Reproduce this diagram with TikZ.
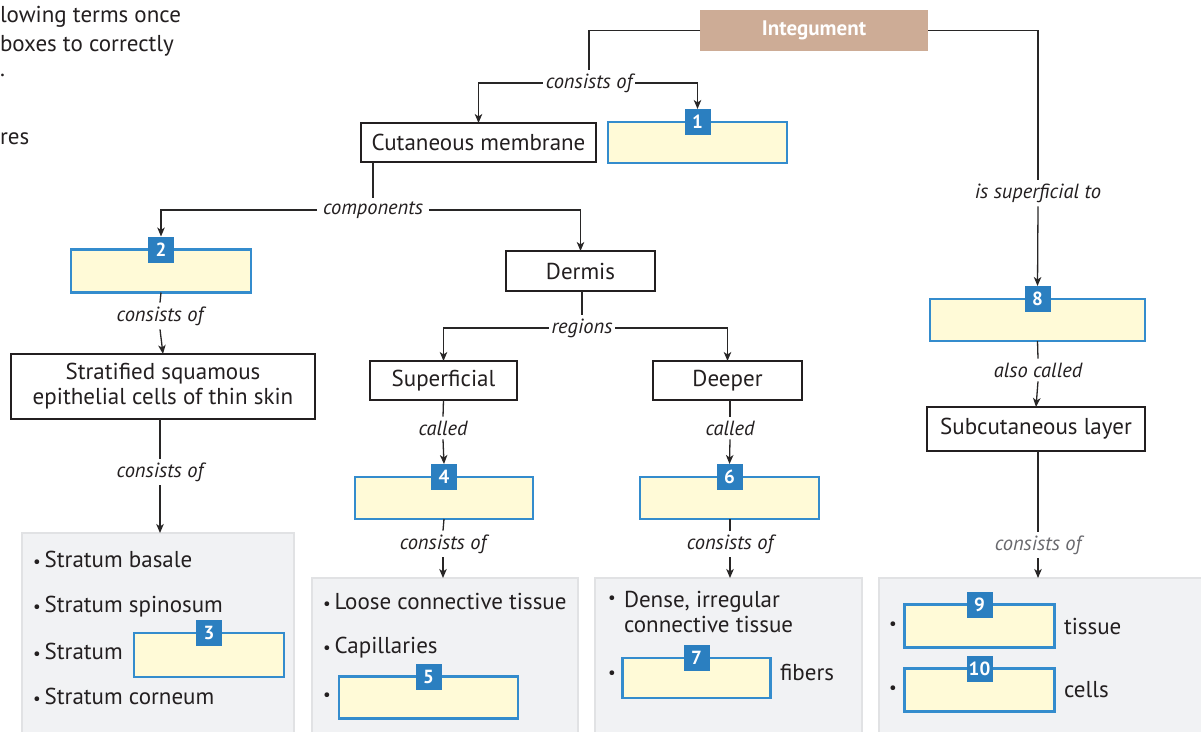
\documentclass[tikz,border=0pt]{standalone}
\usepackage{fontspec}
\setmainfont{PT Sans}
\usetikzlibrary{arrows.meta}
\definecolor{tanC}{RGB}{205,172,150}
\definecolor{badgeC}{RGB}{43,127,192}
\definecolor{ansB}{RGB}{52,140,205}
\definecolor{ansF}{RGB}{255,250,215}
\definecolor{grayF}{RGB}{241,242,244}
\definecolor{grayB}{RGB}{225,226,228}
\definecolor{lineC}{RGB}{40,38,38}
\definecolor{textC}{RGB}{35,31,32}
\definecolor{labG}{RGB}{105,105,110}
\newcommand{\bul}{{\fontsize{17}{17}\selectfont•}\hspace{4pt}}
\begin{document}
\begin{tikzpicture}[x=1pt,y=-1pt,
 every node/.style={inner sep=0pt, outer sep=0pt},
 con/.style={draw=lineC, line width=1.3pt},
 arr/.style={con, -{Stealth[length=9pt,width=7.5pt,inset=2.5pt]}},
 blk/.style={draw=textC, line width=2.4pt, fill=white, font=\fontsize{23}{26}\selectfont, text=textC},
 ans/.style={draw=ansB, line width=2.6pt, fill=ansF},
 badge/.style={fill=badgeC, text=white, font=\bfseries\fontsize{19}{19}\selectfont, minimum width=26pt, minimum height=26pt},
 grayb/.style={draw=grayB, line width=2pt, fill=grayF, anchor=north west},
 lab/.style={font=\itshape\fontsize{20.5}{22}\selectfont, text=textC, inner xsep=3pt, inner ysep=4pt},
 txt/.style={font=\fontsize{23}{25}\selectfont, text=textC, anchor=west},
]
\useasboundingbox (0,0) rectangle (1201,731);
% clipped instruction text
\node[txt] (t1) at (0,17) {lowing terms once};
\node[txt] (t2) at (0,46) {boxes to correctly};
\node[txt] (t3) at (0,75) {.};
\node[txt] (t4) at (0,139) {res};
% top
\node[fill=tanC, minimum width=228pt, minimum height=41pt, text=white, font=\bfseries\fontsize{21}{21}\selectfont] (integ) at (814,30.5) {Integument};
\node[lab] (c1) at (589,83) {consists of};
\node[blk, minimum width=235pt, minimum height=39pt] (cut) at (478.5,142.5) {Cutaneous membrane};
\node[ans, minimum width=179pt, minimum height=41pt] (a1) at (697.5,142.5) {};
\node[badge] (b1) at (a1.north) {1};
\node[lab] (sup) at (1038,193) {is superficial to};
\node[lab, inner xsep=6pt] (comp) at (373,210) {components};
% left column
\node[ans, minimum width=180pt, minimum height=43pt] (a2) at (161,271) {};
\node[badge] (b2) at (a2.north) {2};
\node[lab] (c2) at (160,316) {consists of};
\node[blk, minimum width=304pt, minimum height=65pt, align=center, font=\fontsize{23}{25}\selectfont] (strat) at (163,386.5) {Stratified squamous\\epithelial cells of thin skin};
\node[lab] (c3) at (160,472) {consists of};
\node[grayb, minimum width=272pt, minimum height=205pt] (g1) at (22,533) {};
\node[txt] (s1) at (33,559) {\bul Stratum basale};
\node[txt] (s2) at (33,607) {\bul Stratum spinosum};
\node[txt] (s3) at (33,651) {\bul Stratum};
\node[txt] (s4) at (33,696) {\bul Stratum corneum};
\node[ans, minimum width=150pt, minimum height=44pt] (a3) at (209,655) {};
\node[badge] (b3) at (a3.north) {3};
% dermis
\node[blk, minimum width=149pt, minimum height=40pt] (dermis) at (580.5,271) {Dermis};
\node[lab] (reg) at (582,328) {regions};
\node[blk, minimum width=147pt, minimum height=39pt] (supf) at (443.5,380.5) {Superficial};
\node[blk, minimum width=149pt, minimum height=39pt] (deep) at (727.5,380.5) {Deeper};
\node[lab] (cl1) at (443,428) {called};
\node[lab] (cl2) at (730,428) {called};
\node[ans, minimum width=178pt, minimum height=42pt] (a4) at (444,498) {};
\node[badge] (b4) at (a4.north) {4};
\node[ans, minimum width=179pt, minimum height=42pt] (a6) at (729.5,498) {};
\node[badge] (b6) at (a6.north) {6};
\node[lab] (c4) at (443,544) {consists of};
\node[lab] (c5) at (730,544) {consists of};
\node[grayb, minimum width=266pt, minimum height=165pt] (g2) at (312,578) {};
\node[grayb, minimum width=267pt, minimum height=165pt] (g3) at (595,578) {};
\node[txt] (l1) at (323,601) {\bul Loose connective tissue};
\node[txt] (l2) at (323,648) {\bul Capillaries};
\node[txt] (l3) at (323,697) {\bul};
\node[ans, minimum width=179pt, minimum height=42pt] (a5) at (428.5,697.5) {};
\node[badge] (b5) at (a5.north) {5};
\node[txt] (d1) at (608,600) {\bul};
\node[txt, align=left] (d2) at (624,612) {Dense, irregular\\connective tissue};
\node[txt] (d3) at (608,675) {\bul};
\node[ans, minimum width=148pt, minimum height=40pt] (a7) at (696.5,678) {};
\node[badge] (b7) at (a7.north) {7};
\node[txt] (d4) at (780,672) {fibers};
% right column
\node[ans, minimum width=215pt, minimum height=42pt] (a8) at (1037.5,320) {};
\node[badge] (b8) at (a8.north) {8};
\node[lab] (also) at (1038,370) {also called};
\node[blk, minimum width=218pt, minimum height=44pt] (subc) at (1036,429) {Subcutaneous layer};
\node[lab, text=labG] (c6) at (1038,545) {consists of};
\node[grayb, minimum width=340pt, minimum height=165pt] (g4) at (879,578) {};
\node[txt] (r1) at (889,626) {\bul};
\node[ans, minimum width=150pt, minimum height=43pt] (a9) at (979.5,626) {};
\node[badge] (b9) at (a9.north) {9};
\node[txt] (r2) at (1064,626) {tissue};
\node[txt] (r3) at (889,690) {\bul};
\node[ans, minimum width=150pt, minimum height=43pt] (a10) at (979.5,690) {};
\node[badge] (b10) at (a10.north) {10};
\node[txt] (r4) at (1064,690) {cells};
% connectors
\draw[con] (integ.west) -| (c1.north);
\draw[arr] (c1.west) -| (cut.north);
\draw[arr] (c1.east) -| (b1.north);
\draw[con] (integ.east) -| (sup.north);
\draw[arr] (sup.south) -- (b8.north);
\draw[con] (comp.north |- cut.south) -- (comp.north);
\draw[arr] (comp.west) -| (b2.north);
\draw[arr] (comp.east) -| (dermis.north);
\draw[con] (a2.south) -- (c2.north);
\draw[arr] (c2.south) -- (strat.north);
\draw[con] (c3.north |- strat.south) -- (c3.north);
\draw[arr] (c3.south) -- (c3.south |- g1.north);
\draw[con] (reg.north |- dermis.south) -- (reg.north);
\draw[arr] (reg.west) -| (supf.north);
\draw[arr] (reg.east) -| (deep.north);
\draw[con] (supf.south) -- (cl1.north);
\draw[arr] (cl1.south) -- (b4.north);
\draw[con] (cl2.north |- deep.south) -- (cl2.north);
\draw[arr] (cl2.south) -- (b6.north);
\draw[con] (a4.south) -- (c4.north);
\draw[arr] (c4.south) -- (c4.south |- g2.north);
\draw[con] (c5.north |- a6.south) -- (c5.north);
\draw[arr] (c5.south) -- (c5.south |- g3.north);
\draw[con] (a8.south) -- (also.north);
\draw[arr] (also.south) -- (subc.north);
\draw[con] (c6.north |- subc.south) -- (c6.north);
\draw[arr] (c6.south) -- (c6.south |- g4.north);
\end{tikzpicture}
\end{document}
